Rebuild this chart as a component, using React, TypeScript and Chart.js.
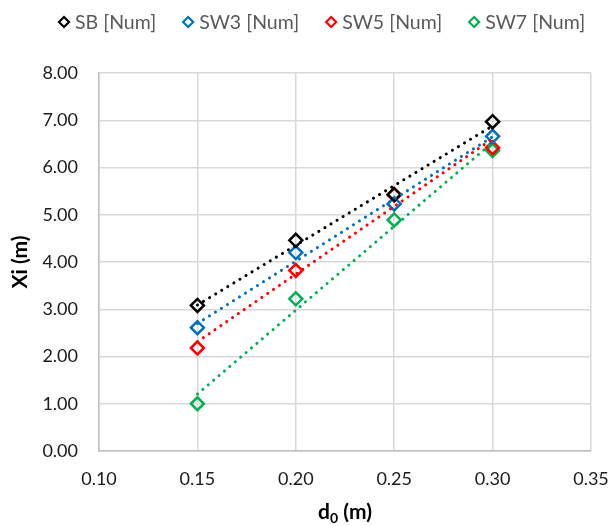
import React, { useEffect, useRef } from "react";
import { Chart, registerables } from "chart.js";

Chart.register(...registerables);

// Diameter d0 (m) of each measured case
const d0Values = [0.15, 0.2, 0.25, 0.3];

// Xi (m) per configuration
const sbValues = [3.08, 4.46, 5.43, 6.97];
const sw3Values = [2.61, 4.2, 5.23, 6.66];
const sw5Values = [2.18, 3.82, 5.42, 6.42];
const sw7Values = [1.0, 3.22, 4.89, 6.36];

const seriesLabels = ["SB [Num]", "SW3 [Num]", "SW5 [Num]", "SW7 [Num]"];
const seriesColors = ["#000000", "#0070c0", "#ff0000", "#00b050"];
const seriesValues = [sbValues, sw3Values, sw5Values, sw7Values];

const FONT = "Lato, 'Open Sans', sans-serif";

// Least-squares linear trend evaluated at the first and last d0
function linearTrend(xs: number[], ys: number[]) {
  const n = xs.length;
  const mx = xs.reduce((a, b) => a + b, 0) / n;
  const my = ys.reduce((a, b) => a + b, 0) / n;
  let sxy = 0;
  let sxx = 0;
  for (let i = 0; i < n; i++) {
    sxy += (xs[i] - mx) * (ys[i] - my);
    sxx += (xs[i] - mx) * (xs[i] - mx);
  }
  const slope = sxy / sxx;
  const x0 = Math.min(...xs);
  const x1 = Math.max(...xs);
  return [
    { x: x0, y: my + slope * (x0 - mx) },
    { x: x1, y: my + slope * (x1 - mx) },
  ];
}

function drawDiamond(ctx: CanvasRenderingContext2D, x: number, y: number, r: number) {
  ctx.beginPath();
  ctx.moveTo(x, y - r);
  ctx.lineTo(x + r, y);
  ctx.lineTo(x, y + r);
  ctx.lineTo(x - r, y);
  ctx.closePath();
  ctx.stroke();
}

// Legend row and axis titles (with the subscript in d0)
const decorPlugin = {
  id: "decor",
  afterDraw(chart: any) {
    const ctx: CanvasRenderingContext2D = chart.ctx;
    const area = chart.chartArea;
    ctx.save();

    // legend
    ctx.font = `19.5px ${FONT}`;
    ctx.textBaseline = "middle";
    ctx.textAlign = "left";
    let x = 64;
    const y = 22;
    seriesLabels.forEach((label, i) => {
      ctx.strokeStyle = seriesColors[i];
      ctx.lineWidth = 2.2;
      drawDiamond(ctx, x, y, 5);
      ctx.fillStyle = "#595959";
      ctx.fillText(label, x + 11, y + 1);
      x += 11 + ctx.measureText(label).width + 32;
    });

    // y title
    ctx.fillStyle = "#000000";
    ctx.font = `bold 21px ${FONT}`;
    ctx.textAlign = "center";
    ctx.translate(20, (area.top + area.bottom) / 2);
    ctx.rotate(-Math.PI / 2);
    ctx.fillText("Xi (m)", 0, 0);
    ctx.setTransform(1, 0, 0, 1, 0, 0);

    // x title: d with subscript 0, then " (m)"
    const big = `bold 21px ${FONT}`;
    const small = `bold 14px ${FONT}`;
    ctx.textAlign = "left";
    ctx.font = big;
    const wd = ctx.measureText("d").width;
    const wm = ctx.measureText(" (m)").width;
    ctx.font = small;
    const w0 = ctx.measureText("0").width;
    const total = wd + w0 + wm;
    const cx = (area.left + area.right) / 2;
    const ty = 512;
    let tx = cx - total / 2;
    ctx.font = big;
    ctx.fillText("d", tx, ty);
    tx += wd;
    ctx.font = small;
    ctx.fillText("0", tx, ty + 6);
    tx += w0;
    ctx.font = big;
    ctx.fillText(" (m)", tx, ty);

    ctx.restore();
  },
};

export default function App() {
  const canvasRef = useRef<HTMLCanvasElement | null>(null);

  useEffect(() => {
    if (!canvasRef.current) return;

    const pointSets = seriesValues.map((vals, i) => ({
      type: "scatter" as const,
      label: seriesLabels[i],
      data: d0Values.map((d, j) => ({ x: d, y: vals[j] })),
      borderColor: seriesColors[i],
      backgroundColor: "rgba(0,0,0,0)",
      pointStyle: "rectRot",
      pointRadius: 6.5,
      pointBorderWidth: 2.5,
      showLine: false,
      order: 2,
    }));

    const trendSets = seriesValues.map((vals, i) => ({
      type: "line" as const,
      label: seriesLabels[i] + " trend",
      data: linearTrend(d0Values, vals),
      borderColor: seriesColors[i],
      borderWidth: 3,
      borderDash: [0.1, 7],
      borderCapStyle: "round",
      pointRadius: 0,
      fill: false,
      order: 1,
    }));

    const chart = new Chart(canvasRef.current, {
      type: "scatter",
      data: { datasets: [...pointSets, ...trendSets] as any },
      options: {
        animation: false,
        responsive: true,
        maintainAspectRatio: false,
        layout: { padding: { top: 73, right: 19, left: 0, bottom: 0 } },
        plugins: {
          legend: { display: false },
          tooltip: { enabled: false },
        },
        scales: {
          x: {
            type: "linear",
            min: 0.1,
            max: 0.35,
            afterFit: (s: any) => {
              s.height = 75;
              s.paddingLeft = 0;
              s.paddingRight = 0;
            },
            ticks: {
              stepSize: 0.05,
              callback: (v: any) => Number(v).toFixed(2),
              color: "#1a1a1a",
              font: { family: FONT, size: 18 },
              padding: 17,
              maxRotation: 0,
            },
            grid: { color: "#d9d9d9", lineWidth: 1.5, drawTicks: false },
            border: { color: "#bfbfbf", width: 1.5 },
          },
          y: {
            min: 0,
            max: 8,
            afterFit: (s: any) => {
              s.width = 99;
              s.paddingTop = 0;
              s.paddingBottom = 0;
            },
            ticks: {
              stepSize: 1,
              callback: (v: any) => Number(v).toFixed(2),
              color: "#1a1a1a",
              font: { family: FONT, size: 18 },
              padding: 21,
            },
            grid: { color: "#d9d9d9", lineWidth: 1.5, drawTicks: false },
            border: { color: "#bfbfbf", width: 1.5 },
          },
        },
      },
      plugins: [decorPlugin],
    });

    return () => chart.destroy();
  }, []);

  return (
    <div style={{ position: "absolute", left: 0, top: 0, width: 610, height: 526, background: "#ffffff" }}>
      <canvas ref={canvasRef} />
    </div>
  );
}
